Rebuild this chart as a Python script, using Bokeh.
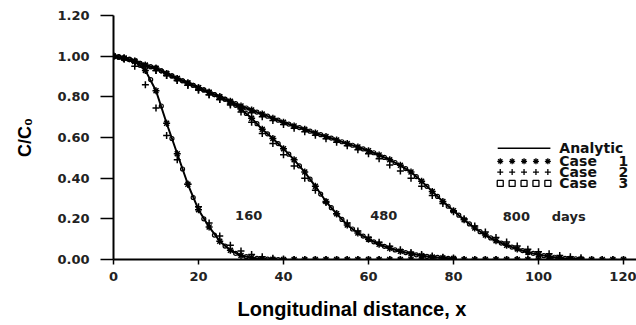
from bokeh.plotting import figure
from bokeh.models import NumeralTickFormatter, FixedTicker, Title
from bokeh.core.properties import value
from bokeh.embed import file_html
from bokeh.resources import INLINE

# ---------------- data ----------------
x_ticks = [0, 20, 40, 60, 80, 100, 120]
y_ticks = [0.0, 0.2, 0.4, 0.6, 0.8, 1.0, 1.2]

# steep curve (left)
x_a = [0, 2.5, 5, 7.5, 10, 12.5, 15, 17.5, 20, 22.5, 25, 27.5, 30, 32.5, 35, 37.5, 40]
an_a = [1.0, 0.99, 0.975, 0.93, 0.83, 0.67, 0.52, 0.37, 0.245, 0.16, 0.09, 0.045, 0.02, 0.009, 0.003, 0.001, 0.0]
c2_a = [1.0, 0.985, 0.95, 0.86, 0.745, 0.61, 0.49, 0.37, 0.26, 0.18, 0.115, 0.07, 0.042, 0.024, 0.013, 0.006, 0.002]
x_a_mid = [1.25, 3.75, 6.25, 8.75, 11.25, 13.75, 16.25, 18.75, 21.25, 23.75, 26.25, 28.75, 31.25, 33.75, 36.25, 38.75]
c3_a = [0.998, 0.985, 0.955, 0.885, 0.755, 0.595, 0.445, 0.305, 0.20, 0.12, 0.066, 0.03, 0.014, 0.006, 0.002, 0.0]

# 480 days
x_b = [0, 2.5, 5, 7.5, 10, 12.5, 15, 17.5, 20, 22.5, 25, 27.5, 30, 32.5, 35, 37.5, 40,
       42.5, 45, 47.5, 50, 52.5, 55, 57.5, 60, 62.5, 65, 67.5, 70, 72.5, 75, 77.5, 80]
an_b = [1.0, 0.99, 0.975, 0.955, 0.94, 0.915, 0.89, 0.868, 0.845, 0.822, 0.80, 0.775, 0.74, 0.695, 0.64, 0.595, 0.545,
        0.49, 0.43, 0.36, 0.285, 0.225, 0.17, 0.13, 0.10, 0.075, 0.055, 0.04, 0.028, 0.019, 0.012, 0.008, 0.005]
c2_b = [1.0, 0.99, 0.97, 0.95, 0.93, 0.905, 0.88, 0.857, 0.834, 0.81, 0.787, 0.76, 0.725, 0.675, 0.62, 0.57, 0.515,
        0.46, 0.40, 0.34, 0.28, 0.225, 0.18, 0.14, 0.11, 0.085, 0.065, 0.048, 0.035, 0.025, 0.017, 0.011, 0.007]
x_b_mid = [1.25, 3.75, 6.25, 8.75, 11.25, 13.75, 16.25, 18.75, 21.25, 23.75, 26.25, 28.75, 31.25, 33.75, 36.25, 38.75,
           41.25, 43.75, 46.25, 48.75, 51.25, 53.75, 56.25, 58.75, 61.25, 63.75, 66.25, 68.75, 71.25, 73.75, 76.25, 78.75]
c3_b = [0.995, 0.983, 0.965, 0.948, 0.928, 0.903, 0.879, 0.857, 0.834, 0.811, 0.788, 0.758, 0.718, 0.668, 0.618, 0.57,
        0.518, 0.46, 0.395, 0.322, 0.255, 0.197, 0.15, 0.115, 0.087, 0.065, 0.047, 0.034, 0.023, 0.015, 0.01, 0.006]

# 800 days
x_c = [0, 2.5, 5, 7.5, 10, 12.5, 15, 17.5, 20, 22.5, 25, 27.5, 30, 32.5, 35, 37.5, 40, 42.5, 45, 47.5,
       50, 52.5, 55, 57.5, 60, 62.5, 65, 67.5, 70, 72.5, 75, 77.5, 80, 82.5, 85, 87.5, 90, 92.5, 95, 97.5,
       100, 102.5, 105, 107.5, 110]
an_c = [1.0, 0.99, 0.975, 0.955, 0.94, 0.915, 0.89, 0.868, 0.845, 0.822, 0.80, 0.778, 0.755, 0.735, 0.715, 0.695,
        0.675, 0.657, 0.64, 0.622, 0.605, 0.588, 0.57, 0.553, 0.535, 0.514, 0.49, 0.463, 0.43, 0.385, 0.335, 0.285,
        0.24, 0.195, 0.155, 0.12, 0.092, 0.07, 0.052, 0.036, 0.024, 0.015, 0.008, 0.004, 0.002]
c2_c = [1.0, 0.99, 0.97, 0.95, 0.93, 0.905, 0.88, 0.857, 0.834, 0.81, 0.787, 0.765, 0.743, 0.722, 0.702, 0.683,
        0.664, 0.646, 0.628, 0.611, 0.594, 0.577, 0.56, 0.54, 0.52, 0.495, 0.465, 0.435, 0.40, 0.36, 0.315, 0.275,
        0.235, 0.20, 0.165, 0.135, 0.108, 0.086, 0.067, 0.051, 0.038, 0.028, 0.02, 0.014, 0.009]
x_c_mid = [1.25, 3.75, 6.25, 8.75, 11.25, 13.75, 16.25, 18.75, 21.25, 23.75, 26.25, 28.75, 31.25, 33.75, 36.25,
           38.75, 41.25, 43.75, 46.25, 48.75, 51.25, 53.75, 56.25, 58.75, 61.25, 63.75, 66.25, 68.75, 71.25, 73.75,
           76.25, 78.75, 81.25, 83.75, 86.25, 88.75, 91.25, 93.75, 96.25, 98.75, 101.25, 103.75, 106.25, 108.75]
c3_c = [0.995, 0.983, 0.965, 0.948, 0.928, 0.903, 0.879, 0.857, 0.834, 0.811, 0.789, 0.767, 0.745, 0.725, 0.705,
        0.685, 0.666, 0.649, 0.631, 0.614, 0.597, 0.579, 0.562, 0.544, 0.525, 0.502, 0.477, 0.447, 0.408, 0.36,
        0.31, 0.262, 0.218, 0.175, 0.137, 0.106, 0.081, 0.061, 0.044, 0.03, 0.019, 0.011, 0.006, 0.003]

# markers lying on the axis beyond the fronts
x_base = [42.5, 45, 47.5, 50, 52.5, 55, 57.5, 60, 62.5, 65, 67.5, 70, 72.5, 75, 77.5, 80, 82.5, 85,
          87.5, 90, 92.5, 95, 97.5, 100, 102.5, 105, 107.5, 110, 112.5, 115, 117.5, 120]
y_base = [0.0] * len(x_base)

curve_labels = ["160", "480", "800", "days"]
curve_label_x = [31.8, 63.6, 94.8, 107.1]
curve_label_y = [0.215, 0.215, 0.21, 0.21]

legend_names = ["Analytic", "Case", "Case", "Case"]
legend_nums = ["", "1", "2", "3"]
legend_rows_y = [0.547, 0.483, 0.43, 0.374]
legend_marker_x = [91.0, 93.8, 96.6, 99.4, 102.2]

# ---------------- figure ----------------
p = figure(width=636, height=325, x_range=(0, 123.06), y_range=(0, 1.2),
           output_backend="svg", toolbar_location=None,
           min_border_left=113, min_border_right=0, min_border_top=15, min_border_bottom=66)
p.outline_line_color = None
p.xgrid.visible = False
p.ygrid.visible = False
p.background_fill_color = "white"
p.border_fill_color = "white"

p.xaxis.ticker = FixedTicker(ticks=x_ticks)
p.yaxis.ticker = FixedTicker(ticks=y_ticks)
p.yaxis.formatter = NumeralTickFormatter(format="0.00")
for ax in (p.xaxis, p.yaxis):
    ax.axis_line_width = 2
    ax.axis_line_color = "black"
    ax.major_tick_line_width = 1.5
    ax.major_tick_line_color = "black"
    ax.minor_tick_line_color = None
    ax.major_tick_in = 0
    ax.major_label_text_font = "DejaVu Sans"
    ax.major_label_text_font_style = "bold"
    ax.major_label_text_font_size = "13px"
    ax.major_label_text_color = "#222222"
p.yaxis.major_tick_out = 13
p.yaxis.major_label_standoff = 11
p.xaxis.major_tick_out = 5
p.xaxis.major_label_standoff = 7

p.yaxis.axis_label = "C/C\u2080"
p.yaxis.axis_label_text_font = "Liberation Sans"
p.yaxis.axis_label_text_font_style = "bold"
p.yaxis.axis_label_text_font_size = "18px"
p.yaxis.axis_label_text_color = "black"
p.yaxis.axis_label_standoff = 19

# small spacer panel between the tick labels and the axis title
p.add_layout(Title(text=" ", standoff=0, text_font_size="9px", text_color="white"), "below")
p.add_layout(Title(text="Longitudinal distance, x", align="left", offset=124, standoff=0,
                   text_font="Liberation Sans", text_font_style="bold", text_font_size="20px",
                   text_color="black"), "below")

# curves
for xs, an, c2, xm, c3 in ((x_a, an_a, c2_a, x_a_mid, c3_a),
                           (x_b, an_b, c2_b, x_b_mid, c3_b),
                           (x_c, an_c, c2_c, x_c_mid, c3_c)):
    p.line(xs, an, line_color="black", line_width=2)
    p.scatter(xs, an, marker="asterisk", size=7, line_color="black", line_width=1.5)
    p.scatter(xs, c2, marker="cross", size=7, line_color="black", line_width=1.5)
    p.scatter(xm, c3, marker="circle", size=4, line_color="black", fill_color=None, line_width=1.2)

for m, s in (("asterisk", 7), ("cross", 7)):
    p.scatter(x_base, y_base, marker=m, size=s, line_color="black", fill_color=None, line_width=1.5)

# curve time labels
for t, lx, ly in zip(curve_labels, curve_label_x, curve_label_y):
    p.text([lx], [ly], text=[t], text_align="center", text_baseline="middle",
           text_font=value("DejaVu Sans"), text_font_size="13px", text_font_style="bold",
           text_color="#222222")

# legend
p.line([90.4, 102.8], [legend_rows_y[0]] * 2, line_color="black", line_width=1.5)
for m, ly in zip(["asterisk", "cross", "square"], legend_rows_y[1:]):
    p.scatter(legend_marker_x, [ly] * len(legend_marker_x), marker=m, size=6,
              line_color="black", fill_color=None, line_width=1.3)
p.text([104.9] * 4, legend_rows_y, text=legend_names, text_align="left", text_baseline="middle",
       text_font=value("DejaVu Sans"), text_font_size="14px", text_font_style="bold",
       text_color="#111111")
p.text([118.8] * 3, legend_rows_y[1:], text=legend_nums[1:], text_align="left", text_baseline="middle",
       text_font=value("DejaVu Sans"), text_font_size="14px", text_font_style="bold",
       text_color="#111111")

open("out.html", "w").write(file_html(p, INLINE))
